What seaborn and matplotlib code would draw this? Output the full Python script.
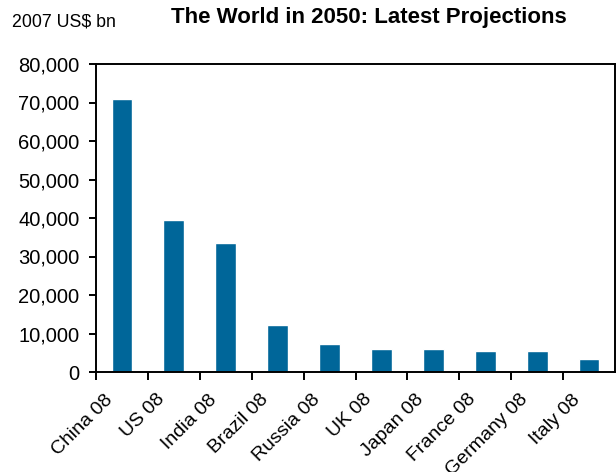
import pandas as pd
import seaborn as sns
import matplotlib.pyplot as plt
from matplotlib.ticker import FuncFormatter
from matplotlib.transforms import ScaledTranslation

# GDP projections for 2050 (2007 US$ bn)
countries = ['China 08', 'US 08', 'India 08', 'Brazil 08', 'Russia 08',
             'UK 08', 'Japan 08', 'France 08', 'Germany 08', 'Italy 08']
gdp_2050 = [70900, 39500, 33500, 12200, 7300, 6000, 6000, 5450, 5450, 3400]

df = pd.DataFrame({'country': countries, 'gdp': gdp_2050})

sns.set_style('white')
plt.rcParams['font.family'] = ['Liberation Sans', 'DejaVu Sans']
plt.rcParams['text.color'] = 'black'
plt.rcParams['xtick.color'] = 'black'
plt.rcParams['ytick.color'] = 'black'

fig = plt.figure(figsize=(6.16, 4.72), dpi=100)
ax = fig.add_axes([96 / 616, 100 / 472, 519 / 616, 308 / 472])

sns.barplot(data=df, x='country', y='gdp', color='#006699', width=0.4,
            saturation=1, ax=ax)

ax.set_ylim(0, 80000)
ax.set_xlim(-0.5, len(countries) - 0.5)
ax.set_yticks(range(0, 80001, 10000))
ax.yaxis.set_major_formatter(FuncFormatter(lambda v, p: f'{int(v):,}'))
ax.tick_params(axis='y', labelsize=14.5, length=5, width=1.4, direction='out', left=True, pad=7)

# ticks between categories, labels at bar centres
ax.set_xticks([i - 0.5 for i in range(len(countries))], minor=False)
ax.set_xticklabels([])
ax.set_xticks(range(len(countries)), minor=True)
ax.set_xticklabels(countries, minor=True, rotation=45, ha='right', va='center',
                   rotation_mode='anchor', fontsize=14)
ax.tick_params(axis='x', which='major', length=6, width=1.4, direction='out', bottom=True)
ax.tick_params(axis='x', which='minor', length=0, pad=18)
shift = ScaledTranslation(-12 / 100, 0, fig.dpi_scale_trans)
for lbl in ax.get_xticklabels(minor=True):
    lbl.set_transform(lbl.get_transform() + shift)

ax.set_xlabel('')
ax.set_ylabel('')
for s in ax.spines.values():
    s.set_color('black')
    s.set_linewidth(1.4)

fig.text(369 / 616, 1 - 18 / 472, 'The World in 2050: Latest Projections',
         ha='center', va='center', fontsize=16, fontweight='bold')
fig.text(12 / 616, 1 - 22 / 472, '2007 US$ bn', ha='left', va='center', fontsize=12.8)

plt.savefig('out.png', dpi=100)
plt.close()
